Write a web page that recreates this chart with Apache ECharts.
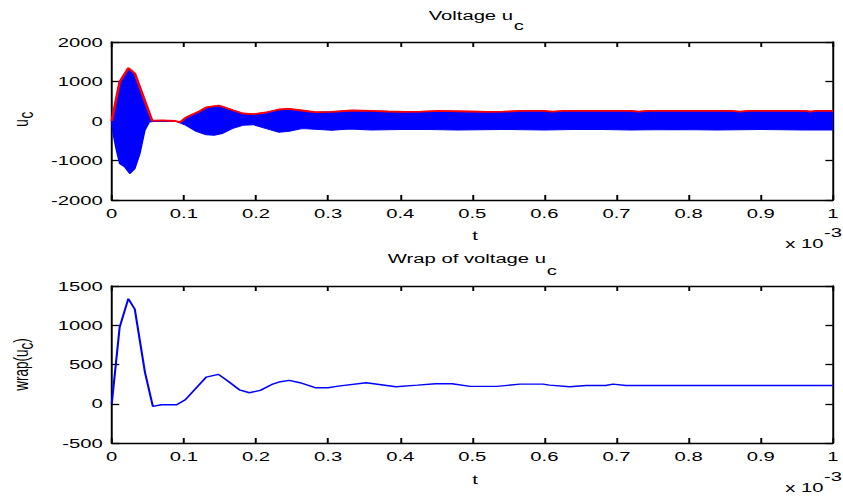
<!DOCTYPE html>
<html>
<head>
<meta charset="utf-8">
<script src="https://cdn.jsdelivr.net/npm/echarts@6/dist/echarts.min.js"></script>
<style>
  html, body { margin: 0; padding: 0; background: #fff; overflow: hidden; }
  /* the figure is laid out on a narrower canvas and widened 1.5x, as exported */
  #chart { width: 562px; height: 499px; transform: scaleX(1.5); transform-origin: 0 0; }
</style>
</head>
<body>
<div id="chart"></div>
<script>
// time is in units of 1e-3 s
const xTickValues = [0, 0.1, 0.2, 0.3, 0.4, 0.5, 0.6, 0.7, 0.8, 0.9, 1];
const topYTicks = [-2000, -1000, 0, 1000, 2000];
const bottomYTicks = [-500, 0, 500, 1000, 1500];

// upper envelope of u_c (red trace, also the top of the blue oscillation)
const envT = [0, 0.011, 0.023, 0.032, 0.056, 0.070, 0.088, 0.095, 0.103, 0.122, 0.131, 0.148, 0.154, 0.168,
  0.182, 0.196, 0.214, 0.232, 0.246, 0.264, 0.282, 0.305, 0.333, 0.360, 0.383, 0.406, 0.429, 0.452,
  0.497, 0.520, 0.543, 0.566, 0.600, 0.612, 0.625, 0.720, 0.731, 0.742, 0.860, 0.871, 0.882, 0.962,
  0.969, 0.976, 1.0];
const envU = [0, 990, 1342, 1203, 10, 15, 0, -30, 88, 248, 342, 392, 360, 273,
  190, 173, 215, 291, 308, 266, 223, 232, 266, 256, 240, 232, 235, 256,
  240, 230, 235, 256, 256, 235, 256, 256, 238, 256, 256, 236, 256, 256,
  240, 256, 256];

// lower extent of the oscillating u_c (bottom of the blue trace)
const lowT = [0, 0.002, 0.006, 0.011, 0.018, 0.025, 0.032, 0.039, 0.046, 0.052, 0.058, 0.090, 0.103,
  0.117, 0.131, 0.142, 0.153, 0.167, 0.182, 0.196, 0.214, 0.232, 0.246, 0.264, 0.282, 0.305, 0.330,
  0.360, 0.420, 0.480, 0.540, 0.600, 0.660, 0.720, 0.780, 0.840, 0.900, 0.960, 1.0];
const lowU = [0, -320, -700, -1080, -1165, -1332, -1205, -826, -235, -25, -10, -15, -110,
  -260, -350, -362, -320, -193, -110, -92, -193, -285, -261, -193, -210, -235, -200,
  -230, -210, -230, -215, -230, -210, -230, -215, -230, -215, -230, -225];

// wrap of u_c (bottom panel)
const wrapT = [0, 0.011, 0.023, 0.032, 0.046, 0.057, 0.069, 0.090, 0.102, 0.131, 0.148, 0.160, 0.177,
  0.191, 0.206, 0.222, 0.234, 0.246, 0.261, 0.282, 0.300, 0.314, 0.353, 0.394, 0.424, 0.449, 0.472,
  0.497, 0.534, 0.566, 0.598, 0.607, 0.635, 0.658, 0.685, 0.695, 0.713, 1.0];
const wrapU = [0, 977, 1339, 1203, 403, -34, -13, -13, 51, 340, 374, 297, 178,
  140, 170, 246, 281, 297, 268, 204, 204, 225, 268, 217, 237, 255, 255,
  221, 221, 250, 250, 237, 217, 233, 233, 250, 233, 233];

const zip = (a, b) => a.map((v, i) => [v, b[i]]);
const FONT = "'Liberation Sans', Arial, Helvetica, sans-serif";
const FS = 13.5;
const BLUE = '#0000ff';
const RED = '#ff0000';
const axisLineStyle = { color: '#000', width: 1.3 };

function xAxisPair(gridIndex) {
  const step = xTickValues[1] - xTickValues[0];
  const common = {
    type: 'value', gridIndex,
    min: xTickValues[0], max: xTickValues[xTickValues.length - 1], interval: step,
    axisLine: { show: true, onZero: false, lineStyle: axisLineStyle },
    axisTick: { show: true, inside: true, length: 5, lineStyle: axisLineStyle },
    splitLine: { show: false }
  };
  return [
    Object.assign({}, common, {
      position: 'bottom',
      axisLabel: {
        color: '#000', fontFamily: FONT, fontSize: FS, margin: 6,
        formatter: v => String(+v.toFixed(1))
      }
    }),
    Object.assign({}, common, { position: 'top', axisLabel: { show: false } })
  ];
}

function yAxisPair(gridIndex, ticks) {
  const common = {
    type: 'value', gridIndex,
    min: ticks[0], max: ticks[ticks.length - 1], interval: ticks[1] - ticks[0],
    axisLine: { show: true, onZero: false, lineStyle: axisLineStyle },
    axisTick: { show: true, inside: true, length: 5, lineStyle: axisLineStyle },
    splitLine: { show: false }
  };
  return [
    Object.assign({}, common, {
      position: 'left',
      axisLabel: {
        color: '#000', fontFamily: FONT, fontSize: FS, margin: 6,
        formatter: v => String(Math.round(v))
      }
    }),
    Object.assign({}, common, { position: 'right', axisLabel: { show: false } })
  ];
}

function txt(x, y, text, align, extra) {
  return Object.assign({
    type: 'text', x, y, silent: true,
    style: { text, fill: '#000', font: FS + 'px ' + FONT, textAlign: align, textVerticalAlign: 'middle' }
  }, extra || {});
}
const ROT = { rotation: Math.PI / 2 };

const chart = echarts.init(document.getElementById('chart'), null, { renderer: 'svg' });
chart.setOption({
  animation: false,
  backgroundColor: '#fff',
  grid: [
    { left: 74.5, width: 484.7, top: 42, height: 158 },
    { left: 74.5, width: 484.7, top: 286, height: 157 }
  ],
  xAxis: [...xAxisPair(0), ...xAxisPair(1)],
  yAxis: [...yAxisPair(0, topYTicks), ...yAxisPair(1, bottomYTicks)],
  series: [
    {
      name: 'u_c upper', type: 'line', xAxisIndex: 0, yAxisIndex: 0,
      data: zip(envT, envU), showSymbol: false, z: 2,
      lineStyle: { color: BLUE, width: 1 },
      areaStyle: { color: BLUE, opacity: 1 }
    },
    {
      name: 'u_c lower', type: 'line', xAxisIndex: 0, yAxisIndex: 0,
      data: zip(lowT, lowU), showSymbol: false, z: 2,
      lineStyle: { color: BLUE, width: 1 },
      areaStyle: { color: BLUE, opacity: 1 }
    },
    {
      name: 'envelope', type: 'line', xAxisIndex: 0, yAxisIndex: 0,
      data: zip(envT, envU), showSymbol: false, z: 3,
      lineStyle: { color: RED, width: 1.8 }
    },
    {
      name: 'wrap(u_c)', type: 'line', xAxisIndex: 2, yAxisIndex: 2,
      data: zip(wrapT, wrapU), showSymbol: false,
      lineStyle: { color: BLUE, width: 1.4 }
    }
  ],
  graphic: [
    // titles
    txt(342, 15.5, 'Voltage u', 'right'),
    txt(342.5, 25.3, 'c', 'left'),
    txt(364, 258.5, 'Wrap of voltage u', 'right'),
    txt(364.5, 270.3, 'c', 'left'),
    // x labels and exponent
    txt(316.7, 235.5, 't', 'center'),
    txt(549, 243.3, 'x 10', 'right'),
    txt(549.3, 232.5, '-3', 'left'),
    txt(316.7, 479.5, 't', 'center'),
    txt(549, 487, 'x 10', 'right'),
    txt(549.3, 476, '-3', 'left'),
    // y labels, rotated
    txt(14.2, 126.7, 'u', 'left', ROT),
    txt(17.5, 118.6, 'c', 'left', ROT),
    txt(14.2, 390.8, 'wrap(u', 'left', ROT),
    txt(17.5, 349.5, 'c', 'left', ROT),
    txt(14.2, 342.7, ')', 'left', ROT)
  ]
});
</script>
</body>
</html>
